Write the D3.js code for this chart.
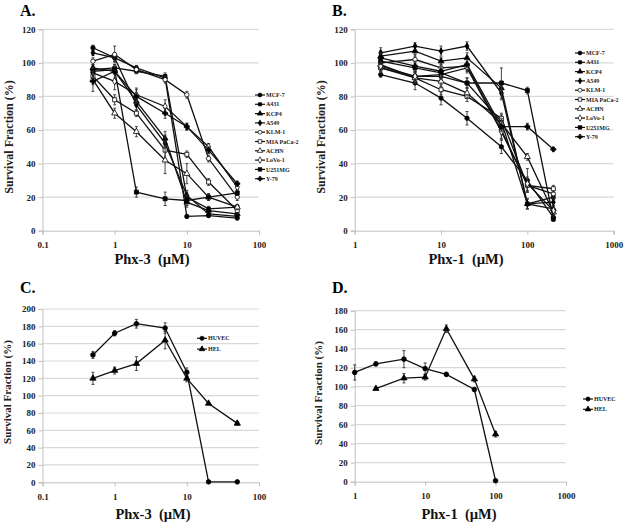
<!DOCTYPE html>
<html><head><meta charset="utf-8">
<script src="https://cdn.jsdelivr.net/npm/d3@7"></script>
<style>
html,body{margin:0;padding:0;background:#fff;}
svg{display:block;font-family:"Liberation Serif","Times New Roman",serif;}
</style></head>
<body>
<svg id="chart" width="624" height="524"></svg>
<script>
// ---------------- DATA ----------------
const cellLines = ["MCF-7","A431","KCP4","A549","KLM-1","MIA PaCa-2","ACHN","LoVo-1","U251MG","Y-79"];
const normalCells = ["HUVEC","HEL"];

const concA = [0.5, 1, 2, 5, 10, 20, 50];      // Phx-3 (µM)
const concB = [2, 5, 10, 20, 50, 100, 200];    // Phx-1 (µM)
const concC = [0.5, 1, 2, 5, 10, 20, 50];      // Phx-3 (µM)
const concD = [1, 2, 5, 10, 20, 50, 100];      // Phx-1 (µM)

const valuesA = [
  [109, 103, 97, 91, 8.5, 9, 7.5],
  [96, 97, 95, 92, 20, 13, 14],
  [97, 95, 77, 55, 17, 12, 10],
  [106, 103, 75, 52, 21, 10, 8.5],
  [101, 105, 96, 90, 81, 43, 20],
  [92, 78, 70, 48, 45.5, 29, 12],
  [90, 70, 59, 42, 34, 20, 14],
  [94, 89, 81, 74, 62, 50, 26],
  [95, 96, 23, 19, 18, 20, 22.5],
  [89, 95, 80, 70, 62, 48, 28]
];
const errorsA = [
  [1.5, 2, 1.5, 2, 1, 1, 1],
  [2, 2, 1.5, 2, 3, 1.5, 1.5],
  [2, 2, 3, 4, 3, 1.5, 1],
  [1.5, 2, 3, 5, 3, 1, 1],
  [2, 5, 2, 2, 2, 2, 2],
  [3, 3, 2, 5, 2, 2, 1.5],
  [3, 3, 3, 8, 6, 2, 1.5],
  [3, 5, 4, 4, 2, 2, 1.5],
  [2, 2, 3, 4, 3, 2, 1.5],
  [6, 4, 4, 3, 2, 2, 1.5]
];

const valuesB = [
  [93, 88, 79, 67, 50, 30, 8],
  [97, 92, 92, 88, 65, 16, 20],
  [104, 107, 101, 103, 85, 16, 13],
  [106, 110, 107, 110, 82, 16, 17],
  [100, 102, 97, 98, 60, 27, 22],
  [97, 91, 84, 80, 67, 27, 25],
  [99, 91, 89, 82, 64, 44, 11],
  [98, 92, 93, 97, 59, 28, 12],
  [101, 97, 94, 88, 88, 83.5, 7],
  [103, 98, 95, 99, 62, 62, 48.5]
];
const errorsB = [
  [1.5, 4, 4, 4, 4, 7, 1.5],
  [2, 3, 3, 3, 4, 3, 1.5],
  [3, 3, 2, 3, 4, 3, 2],
  [3, 2, 3, 2.5, 4, 3, 2],
  [3, 3, 3, 3, 5, 4, 2],
  [3, 3, 3, 3, 3, 4, 2],
  [3, 3, 3, 3, 3, 2, 2],
  [3, 3, 3, 3, 5, 4, 2],
  [2, 3, 3, 3, 9, 2, 1.5],
  [3, 3, 3, 3, 3, 2, 1]
];

const valuesC = [
  [147, 172, 183, 178, 127, 0.5, 0.5],
  [120, 129, 137, 164, 120, 91, 68]
];
const errorsC = [
  [4, 3, 5, 6, 5, 0, 0],
  [7, 4, 8, 10, 4, 1, 2]
];

const valuesD = [
  [115, 124, 129, 119, 113, 97, 1],
  [null, 98, 109, 110, 161, 108, 50]
];
const errorsD = [
  [8, 2, 9, 6, 2, 2, 0],
  [0, 1, 5, 3, 4, 3, 3]
];

const xTicksA = [0.1, 1, 10, 100];
const xTicksB = [1, 10, 100, 1000];
const yTicksAB = [0, 20, 40, 60, 80, 100, 120];
const yTicksC = [0, 20, 40, 60, 80, 100, 120, 140, 160, 180, 200];
const yTicksD = [0, 20, 40, 60, 80, 100, 120, 140, 160, 180];

// ---------------- STYLE ----------------
const markerAB = [
  {t: d3.symbolCircle, s: 15, fill: "#000"},
  {t: d3.symbolSquare, s: 13, fill: "#000"},
  {t: d3.symbolTriangle, s: 15, fill: "#000"},
  {t: d3.symbolDiamond, s: 13, fill: "#000"},
  {t: d3.symbolCircle, s: 15, fill: "#fff"},
  {t: d3.symbolSquare, s: 16, fill: "#fff"},
  {t: d3.symbolTriangle, s: 16, fill: "#fff"},
  {t: d3.symbolDiamond, s: 15, fill: "#fff"},
  {t: d3.symbolSquare, s: 16, fill: "#000"},
  {t: d3.symbolCross, s: 14, fill: "#000"}
];
const markerCD = [
  {t: d3.symbolCircle, s: 17, fill: "#000"},
  {t: d3.symbolTriangle, s: 17, fill: "#000"}
];

const svg = d3.select("#chart");
const FONT = '"Liberation Serif","Times New Roman",serif';

function drawPanel(cfg) {
  const g = svg.append("g");
  const x = d3.scaleLog().domain(cfg.xDomain).range([cfg.x0, cfg.x1]);
  const y = d3.scaleLinear().domain([0, cfg.yMax]).range([cfg.y0, cfg.y1]);

  // gridlines
  g.selectAll(".grid").data(cfg.yTicks.filter(d => d > 0)).enter().append("line")
    .attr("x1", cfg.x0).attr("x2", cfg.x1)
    .attr("y1", d => y(d)).attr("y2", d => y(d))
    .attr("stroke", "#d9d9d9").attr("stroke-width", 1.2);

  // y axis
  const ya = g.append("g").attr("transform", `translate(${cfg.x0},0)`)
    .call(d3.axisLeft(y).tickValues(cfg.yTicks).tickSize(4).tickPadding(3).tickFormat(d3.format("d")));
  ya.select(".domain").attr("stroke", "#bfbfbf");
  ya.selectAll(".tick line").attr("stroke", "#bfbfbf");
  ya.selectAll("text").attr("font-family", FONT).attr("font-weight", "bold").attr("font-size", 9).attr("fill", "#222");

  // x axis
  const xa = g.append("g").attr("transform", `translate(0,${cfg.y0})`)
    .call(d3.axisBottom(x).tickValues(cfg.xTicks).tickSize(4).tickPadding(7).tickFormat(d => String(d)));
  xa.select(".domain").attr("stroke", "#bfbfbf");
  xa.selectAll(".tick line").attr("stroke", "#bfbfbf");
  xa.selectAll("text").attr("font-family", FONT).attr("font-weight", "bold").attr("font-size", 9).attr("fill", "#222");

  // series
  cfg.values.forEach((vals, si) => {
    const pts = vals.map((v, i) => ({c: cfg.conc[i], v: v, e: cfg.errors[si][i]})).filter(p => p.v !== null);
    const line = d3.line().x(p => x(p.c)).y(p => y(p.v));
    g.append("path").attr("d", line(pts)).attr("fill", "none").attr("stroke", "#111").attr("stroke-width", 1.3);
    // error bars
    pts.filter(p => p.e > 0).forEach(p => {
      const cx = x(p.c), yt = y(p.v + p.e), yb = y(Math.max(0, p.v - p.e));
      g.append("line").attr("x1", cx).attr("x2", cx).attr("y1", yt).attr("y2", yb).attr("stroke", "#333").attr("stroke-width", 0.9);
      g.append("line").attr("x1", cx - 1.5).attr("x2", cx + 1.5).attr("y1", yt).attr("y2", yt).attr("stroke", "#333").attr("stroke-width", 0.9);
      g.append("line").attr("x1", cx - 1.5).attr("x2", cx + 1.5).attr("y1", yb).attr("y2", yb).attr("stroke", "#333").attr("stroke-width", 0.9);
    });
    const m = cfg.markers[si];
    g.selectAll(null).data(pts).enter().append("path")
      .attr("d", d3.symbol().type(m.t).size(m.s))
      .attr("transform", p => `translate(${x(p.c)},${y(p.v)})`)
      .attr("fill", m.fill).attr("stroke", "#000").attr("stroke-width", 0.8);
  });

  // legend
  cfg.names.forEach((n, i) => {
    const ly = cfg.legY + i * cfg.legDy;
    g.append("line").attr("x1", cfg.legX).attr("x2", cfg.legX + 10).attr("y1", ly).attr("y2", ly)
      .attr("stroke", "#111").attr("stroke-width", 1.2);
    const m = cfg.markers[i];
    g.append("path").attr("d", d3.symbol().type(m.t).size(m.s * 0.8))
      .attr("transform", `translate(${cfg.legX + 5},${ly})`)
      .attr("fill", m.fill).attr("stroke", "#000").attr("stroke-width", 0.7);
    g.append("text").attr("x", cfg.legX + 11).attr("y", ly).attr("dy", "0.35em")
      .attr("font-family", FONT).attr("font-weight", "bold").attr("font-size", 6).attr("fill", "#222").text(n);
  });

  // panel letter
  g.append("text").attr("x", cfg.letterX).attr("y", cfg.letterY)
    .attr("font-family", FONT).attr("font-weight", "bold").attr("font-size", 16).text(cfg.letter);

  // y title (centred on yTitleX)
  g.append("text").attr("transform", `translate(${cfg.yTitleX},${cfg.yTitleY}) rotate(-90)`)
    .attr("text-anchor", "middle").attr("dy", "0.35em").attr("font-family", FONT).attr("font-weight", "bold")
    .attr("font-size", cfg.yTitleSize).attr("fill", "#222").text("Survival Fraction (%)");

  // x title
  g.append("text").attr("x", cfg.xTitleX).attr("y", cfg.xTitleY).attr("text-anchor", "middle")
    .attr("font-family", FONT).attr("font-weight", "bold").attr("font-size", 14.5).attr("fill", "#111")
    .attr("xml:space", "preserve").text(cfg.xTitle);
}

drawPanel({
  letter: "A.", letterX: 20, letterY: 16,
  xDomain: [0.1, 100], x0: 42.5, x1: 259, yMax: 120, y0: 230.7, y1: 29.3,
  xTicks: xTicksA, yTicks: yTicksAB, conc: concA, values: valuesA, errors: errorsA,
  markers: markerAB, names: cellLines, legX: 255, legY: 95, legDy: 9.3,
  yTitleX: 9, yTitleY: 137, yTitleSize: 12, xTitleX: 152, xTitleY: 264, xTitle: "Phx-3  (\u00b5M)"
});
drawPanel({
  letter: "B.", letterX: 332, letterY: 16,
  xDomain: [1, 1000], x0: 354.7, x1: 613.7, yMax: 120, y0: 230.7, y1: 29.3,
  xTicks: xTicksB, yTicks: yTicksAB, conc: concB, values: valuesB, errors: errorsB,
  markers: markerAB, names: cellLines, legX: 575, legY: 53, legDy: 9.3,
  yTitleX: 321, yTitleY: 137, yTitleSize: 12, xTitleX: 466, xTitleY: 264, xTitle: "Phx-1  (\u00b5M)"
});
drawPanel({
  letter: "C.", letterX: 20, letterY: 293,
  xDomain: [0.1, 100], x0: 42.5, x1: 259, yMax: 200, y0: 482.3, y1: 309,
  xTicks: xTicksA, yTicks: yTicksC, conc: concC, values: valuesC, errors: errorsC,
  markers: markerCD, names: normalCells, legX: 197, legY: 338.3, legDy: 10.8,
  yTitleX: 7, yTitleY: 392, yTitleSize: 11, xTitleX: 153, xTitleY: 519, xTitle: "Phx-3  (\u00b5M)"
});
drawPanel({
  letter: "D.", letterX: 332, letterY: 293,
  xDomain: [1, 1000], x0: 354.7, x1: 566, yMax: 180, y0: 481.7, y1: 310.7,
  xTicks: xTicksB, yTicks: yTicksD, conc: concD, values: valuesD, errors: errorsD,
  markers: markerCD, names: normalCells, legX: 583, legY: 399, legDy: 10.3,
  yTitleX: 318, yTitleY: 393, yTitleSize: 11, xTitleX: 459, xTitleY: 519, xTitle: "Phx-1  (\u00b5M)"
});
</script>
</body></html>
